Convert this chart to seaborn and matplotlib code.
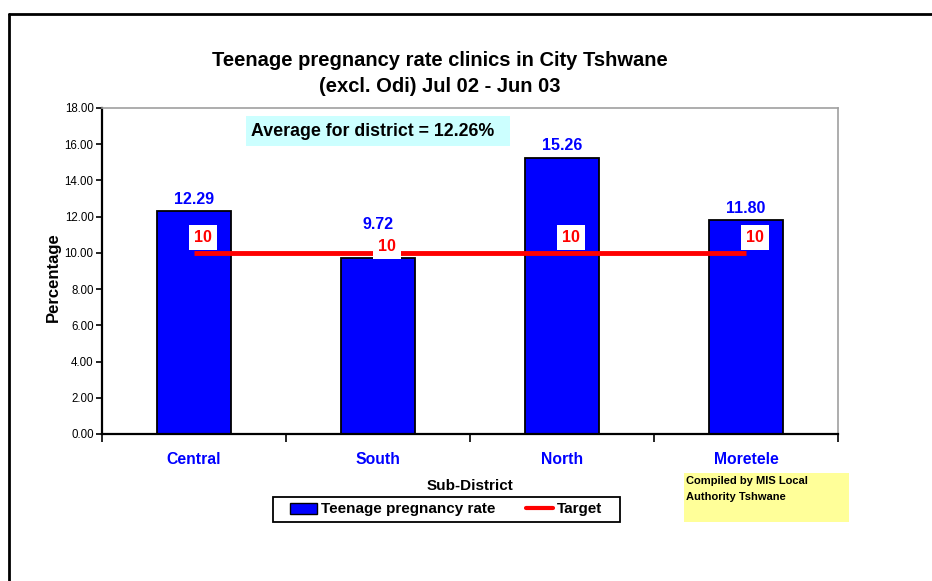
import matplotlib
matplotlib.use("Agg")
import matplotlib.pyplot as plt
import seaborn as sns
import pandas as pd
from matplotlib.patches import Rectangle, Patch
from matplotlib.lines import Line2D

# data
sub_districts = ["Central", "South", "North", "Moretele"]
rates = [12.29, 9.72, 15.26, 11.80]
target = [10, 10, 10, 10]
district_avg = 12.26
y_ticks = [0, 2, 4, 6, 8, 10, 12, 14, 16, 18]

df = pd.DataFrame({"Sub-District": sub_districts, "Rate": rates, "Target": target})

sns.set_theme(style="white")
plt.rcParams["font.family"] = ["Liberation Sans", "DejaVu Sans"]
plt.rcParams["text.color"] = "black"
plt.rcParams["axes.labelcolor"] = "black"
plt.rcParams["xtick.color"] = "black"
plt.rcParams["ytick.color"] = "black"

W, H = 932, 581
fig = plt.figure(figsize=(W / 100, H / 100), dpi=100)
ax = fig.add_axes([102 / W, 1 - 434 / H, 736 / W, 326 / H])

sns.barplot(data=df, x="Sub-District", y="Rate", color="#0000FF", width=0.4,
            edgecolor="black", linewidth=1.3, saturation=1, ax=ax, zorder=2)
ax.plot(range(len(sub_districts)), df["Target"], color="#FF0000", lw=3.5,
        solid_capstyle="butt", zorder=3)

# value labels (South is lifted clear of the target label, as in Excel)
for i, v in enumerate(rates):
    y = max(v, 10.9) + 0.25
    ax.text(i, y, f"{v:.2f}", ha="center", va="bottom", color="#0000FF",
            fontsize=11.5, fontweight="bold")
for i, t in enumerate(target):
    dy = 0.35 if i == 1 else 0.85
    ax.text(i + 0.05, t + dy, f"{t}", ha="center", va="center", color="#FF0000",
            fontsize=11.5, fontweight="bold", zorder=4,
            bbox=dict(boxstyle="square,pad=0.3", fc="white", ec="none"))

ax.set_xlim(-0.5, len(sub_districts) - 0.5)
ax.set_ylim(0, 18)
ax.set_yticks(y_ticks)
ax.set_yticklabels([f"{t:.2f}" for t in y_ticks], fontsize=8.3)
ax.set_xticks(range(len(sub_districts)))
ax.set_xticklabels(sub_districts, color="#0000FF", fontsize=11.3, fontweight="bold")
ax.set_xticks([i - 0.5 for i in range(len(sub_districts) + 1)], minor=True)
ax.tick_params(axis="x", which="major", length=0, pad=13)
ax.tick_params(axis="x", which="minor", direction="out", length=6, width=1.2,
               color="black", bottom=True)
ax.tick_params(axis="y", direction="out", length=4, width=1.2, color="black",
               left=True, pad=2)
ax.set_xlabel("Sub-District", fontsize=11, fontweight="bold", va="center")
ax.xaxis.set_label_coords(0.5, -0.158)
ax.set_ylabel("Percentage", fontsize=12, fontweight="bold")
ax.yaxis.set_label_coords(-0.056, 0.48)

for s in ["left", "bottom"]:
    ax.spines[s].set_color("black")
    ax.spines[s].set_linewidth(1.6)
for s in ["top", "right"]:
    ax.spines[s].set_color("#A0A0A0")
    ax.spines[s].set_linewidth(1.2)

# title
fig.text(440 / W, 1 - 60 / H, "Teenage pregnancy rate clinics in City Tshwane",
         ha="center", va="center", fontsize=14.5, fontweight="bold")
fig.text(440 / W, 1 - 86 / H, "(excl. Odi) Jul 02 - Jun 03",
         ha="center", va="center", fontsize=14.5, fontweight="bold")

# average box
fig.patches.append(Rectangle((246 / W, 1 - 146 / H), 264 / W, 30 / H,
                             transform=fig.transFigure, fc="#CCFFFF", ec="none", zorder=5))
fig.text(373 / W, 1 - 131 / H, f"Average for district = {district_avg:.2f}%",
         ha="center", va="center", fontsize=12.8, fontweight="bold", zorder=6)

# compiled-by box
fig.patches.append(Rectangle((684 / W, 1 - 522 / H), 165 / W, 49 / H,
                             transform=fig.transFigure, fc="#FFFF99", ec="none"))
fig.text(686 / W, 1 - 481 / H, "Compiled by MIS Local", ha="left", va="center",
         fontsize=8, fontweight="bold")
fig.text(686 / W, 1 - 497 / H, "Authority Tshwane", ha="left", va="center",
         fontsize=8, fontweight="bold")

# legend (frame drawn separately for Excel-like padding)
fig.patches.append(Rectangle((273 / W, 1 - 522 / H), 347 / W, 25 / H,
                             transform=fig.transFigure, fc="white", ec="black", lw=1.3))
handles = [Patch(fc="#0000FF", ec="black", lw=1),
           Line2D([0], [0], color="#FF0000", lw=3)]
fig.legend(handles, ["Teenage pregnancy rate", "Target"], ncol=2,
           loc="center", bbox_to_anchor=(446 / W, 1 - 509.5 / H),
           prop={"size": 11, "weight": "bold"}, frameon=False,
           handlelength=1.8, handletextpad=0.25, columnspacing=2.0,
           borderpad=0.0, borderaxespad=0)

# outer frame
fig.add_artist(Line2D([9 / W, 1], [1 - 14 / H, 1 - 14 / H], color="black", lw=2,
                      transform=fig.transFigure))
fig.add_artist(Line2D([9 / W, 9 / W], [0, 1 - 14 / H], color="black", lw=2,
                      transform=fig.transFigure))

fig.savefig("out.png", dpi=100)
